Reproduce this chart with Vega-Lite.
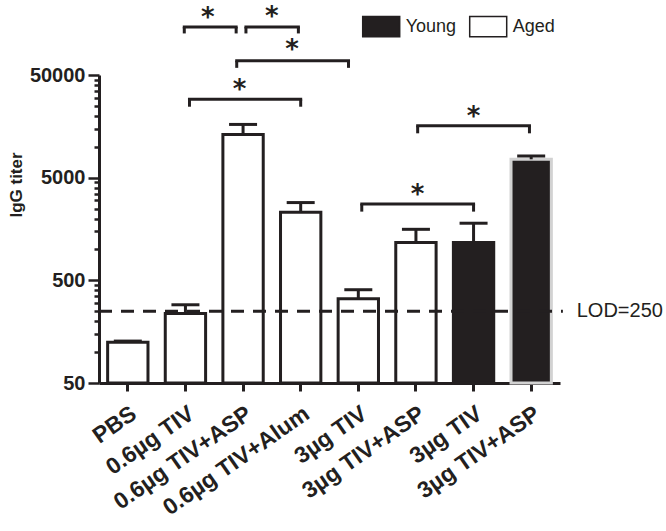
{
  "$schema": "https://vega.github.io/schema/vega-lite/v6.json",
  "autosize": "none",
  "width": 461,
  "height": 308,
  "padding": {"left": 99, "top": 75, "right": 106, "bottom": 148},
  "background": "white",
  "config": {
    "view": {"stroke": null},
    "axisY": {
      "titleFont": "Liberation Sans", "titleFontWeight": "bold", "titleFontSize": 17, "titleColor": "#231f20",
      "titleAngle": -90, "titleAlign": "center", "titleBaseline": "alphabetic",
      "titleX": -77.6, "titleY": 109.5,
      "tickSize": 11, "tickWidth": 2.5, "tickColor": "#231f20",
      "labelFont": "Liberation Sans", "labelFontWeight": "bold", "labelFontSize": 20, "labelColor": "#231f20",
      "labelPadding": 3, "labelBaseline": "middle",
      "domainWidth": 3, "domainColor": "#231f20", "grid": false
    }
  },
  "datasets": {
    "bars": [
      {"group": "PBS|Aged", "age": "Aged", "mean": 125, "upper": 128},
      {"group": "0.6µg TIV|Aged", "age": "Aged", "mean": 238, "upper": 289},
      {"group": "0.6µg TIV+ASP|Aged", "age": "Aged", "mean": 13200, "upper": 16500},
      {"group": "0.6µg TIV+Alum|Aged", "age": "Aged", "mean": 2300, "upper": 2860},
      {"group": "3µg TIV|Aged", "age": "Aged", "mean": 330, "upper": 405},
      {"group": "3µg TIV+ASP|Aged", "age": "Aged", "mean": 1170, "upper": 1570},
      {"group": "3µg TIV|Young", "age": "Young", "mean": 1170, "upper": 1800},
      {"group": "3µg TIV+ASP|Young", "age": "Young", "mean": 7550, "upper": 8130}
    ],
    "brackets": [
      {"x1": 1.48, "x2": 2.38, "ytop": 147000, "ybot": 127000},
      {"x1": 2.55, "x2": 3.46, "ytop": 147000, "ybot": 127000},
      {"x1": 2.39, "x2": 4.33, "ytop": 68700, "ybot": 58700},
      {"x1": 1.57, "x2": 3.5, "ytop": 28950, "ybot": 24550},
      {"x1": 5.53, "x2": 7.47, "ytop": 16030, "ybot": 13520},
      {"x1": 4.56, "x2": 6.5, "ytop": 2775, "ybot": 2335}
    ],
    "stars": [
      {"x": 1.89, "y": 206000},
      {"x": 3.0, "y": 213800},
      {"x": 3.35, "y": 101000},
      {"x": 2.44, "y": 41400},
      {"x": 6.5, "y": 22800},
      {"x": 5.53, "y": 3945}
    ],
    "lod": [{"x0": 0, "x1": 8.05, "xt": 8.29, "lod": 250, "label": "LOD=250"}]
  },
  "resolve": {"scale": {"x": "independent"}},
  "layer": [
    {
      "data": {"name": "bars"},
      "mark": {"type": "bar", "strokeWidth": 3},
      "encoding": {
        "x": {
          "field": "group", "type": "nominal", "sort": null,
          "scale": {"paddingInner": 0.3, "paddingOuter": 0.15},
          "axis": {
            "title": null, "labelAngle": -35, "labelAlign": "right", "labelBaseline": "top",
            "labelFont": "Liberation Sans", "labelFontWeight": "bold", "labelFontSize": 23, "labelColor": "#231f20",
            "labelExpr": "split(datum.label, '|')[0]", "labelPadding": 11, "labelLimit": 400,
            "tickSize": 8, "tickWidth": 3, "tickColor": "#231f20",
            "domainWidth": 3, "domainColor": "#231f20"
          }
        },
        "y": {
          "field": "mean", "type": "quantitative",
          "scale": {"type": "log", "domain": [50, 50000], "nice": false},
          "axis": {
            "title": "IgG titer",
            "values": [50, 100, 150, 200, 250, 300, 350, 400, 450, 500, 1000, 1500, 2000, 2500, 3000, 3500, 4000, 4500, 5000, 10000, 15000, 20000, 25000, 30000, 35000, 40000, 45000, 50000],
            "labelExpr": "indexof([50,500,5000,50000], datum.value) >= 0 ? format(datum.value, 'd') : ''",
            "tickDash": {"condition": {"test": "indexof([50,500,5000,50000], datum.value) >= 0", "value": [20, 0]}, "value": [5, 20]}
          }
        },
        "y2": {"datum": 50},
        "fill": {
          "field": "age", "type": "nominal",
          "scale": {"domain": ["Young", "Aged"], "range": ["#231f20", "#ffffff"]},
          "legend": {
            "orient": "none", "legendX": 262.7, "legendY": -68, "direction": "horizontal", "title": null,
            "symbolType": "M-1,-0.55H1V0.55H-1Z", "symbolSize": 1369,
            "symbolStrokeColor": "#231f20", "symbolStrokeWidth": 1.5,
            "labelFont": "Liberation Sans", "labelFontSize": 18, "labelColor": "#231f20",
            "labelOffset": 5, "columnPadding": 10
          }
        },
        "stroke": {
          "condition": {"test": "datum.group === '3µg TIV+ASP|Young'", "value": "#d2d2d2"},
          "value": "#231f20"
        }
      }
    },
    {
      "data": {"name": "bars"},
      "mark": {"type": "rule", "strokeWidth": 3, "color": "#231f20"},
      "encoding": {
        "x": {"field": "group", "type": "nominal", "sort": null, "scale": {"paddingInner": 0.3, "paddingOuter": 0.15}, "axis": null},
        "y": {"field": "mean", "type": "quantitative"},
        "y2": {"field": "upper"}
      }
    },
    {
      "data": {"name": "bars"},
      "mark": {"type": "tick", "size": 28, "thickness": 3, "color": "#231f20", "opacity": 1},
      "encoding": {
        "x": {"field": "group", "type": "nominal", "sort": null, "scale": {"paddingInner": 0.3, "paddingOuter": 0.15}, "axis": null},
        "y": {"field": "upper", "type": "quantitative"}
      }
    },
    {
      "data": {"name": "lod"},
      "mark": {"type": "rule", "strokeWidth": 3, "strokeDash": [13, 9], "color": "#231f20"},
      "encoding": {
        "x": {"field": "x0", "type": "quantitative", "scale": {"domain": [0, 8], "nice": false, "zero": false}, "axis": null},
        "x2": {"field": "x1"},
        "y": {"field": "lod", "type": "quantitative"}
      }
    },
    {
      "data": {"name": "lod"},
      "mark": {"type": "text", "align": "left", "baseline": "middle", "font": "Liberation Sans", "fontSize": 20, "color": "#231f20"},
      "encoding": {
        "x": {"field": "xt", "type": "quantitative", "scale": {"domain": [0, 8], "nice": false, "zero": false}, "axis": null},
        "y": {"field": "lod", "type": "quantitative"},
        "text": {"field": "label"}
      }
    },
    {
      "data": {"name": "brackets"},
      "mark": {"type": "rule", "strokeWidth": 3, "color": "#231f20", "strokeCap": "square"},
      "encoding": {
        "x": {"field": "x1", "type": "quantitative", "scale": {"domain": [0, 8], "nice": false, "zero": false}, "axis": null},
        "x2": {"field": "x2"},
        "y": {"field": "ytop", "type": "quantitative"}
      }
    },
    {
      "data": {"name": "brackets"},
      "mark": {"type": "rule", "strokeWidth": 3, "color": "#231f20"},
      "encoding": {
        "x": {"field": "x1", "type": "quantitative", "scale": {"domain": [0, 8], "nice": false, "zero": false}, "axis": null},
        "y": {"field": "ytop", "type": "quantitative"},
        "y2": {"field": "ybot"}
      }
    },
    {
      "data": {"name": "brackets"},
      "mark": {"type": "rule", "strokeWidth": 3, "color": "#231f20"},
      "encoding": {
        "x": {"field": "x2", "type": "quantitative", "scale": {"domain": [0, 8], "nice": false, "zero": false}, "axis": null},
        "y": {"field": "ytop", "type": "quantitative"},
        "y2": {"field": "ybot"}
      }
    },
    {
      "data": {"name": "stars"},
      "mark": {"type": "text", "text": "*", "align": "center", "baseline": "alphabetic", "dy": 14.6, "font": "DejaVu Sans", "fontWeight": "bold", "fontSize": 26, "color": "#231f20"},
      "encoding": {
        "x": {"field": "x", "type": "quantitative", "scale": {"domain": [0, 8], "nice": false, "zero": false}, "axis": null},
        "y": {"field": "y", "type": "quantitative"}
      }
    }
  ]
}
